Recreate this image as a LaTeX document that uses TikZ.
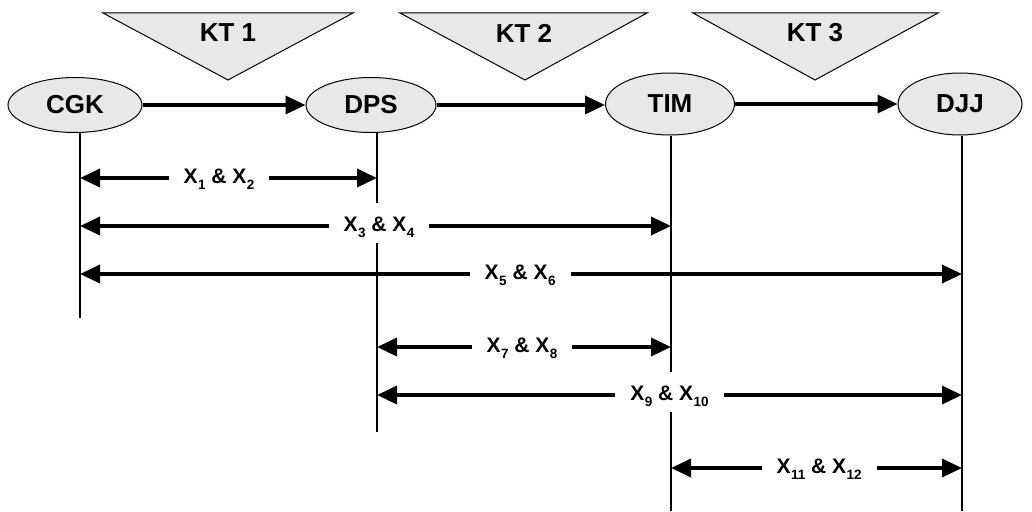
\documentclass[tikz,border=0pt]{standalone}
\usepackage{fontspec}
\setmainfont{Liberation Sans}
\usetikzlibrary{arrows.meta,shapes.geometric}
\definecolor{lgray}{RGB}{232,232,232}
\newcommand{\subx}[1]{\kern0.5pt\raisebox{-5.5pt}{\fontsize{13.5}{14}\selectfont #1}}
\begin{document}
\begin{tikzpicture}[x=1pt,y=-1pt,
  site/.style={ellipse, draw=black, line width=1pt, fill=lgray, inner sep=0pt,
    font=\fontsize{26}{30}\selectfont\bfseries},
  kt/.style={draw=black, line width=1pt, fill=lgray, line join=miter},
  ktlabel/.style={font=\fontsize{26}{30}\selectfont\bfseries, inner sep=0pt},
  flow/.style={line width=3.5pt, -{Triangle[length=20pt,width=18pt]}},
  span/.style={line width=3.5pt, {Triangle[length=20pt,width=18pt]}-{Triangle[length=20pt,width=18pt]}},
  life/.style={line width=1.4pt},
  lbl/.style={fill=white, inner xsep=15pt, inner ysep=2pt, text height=26.5pt, text depth=9.5pt,
    anchor=base, yshift=-5.5pt, font=\fontsize{21}{24}\selectfont\bfseries}]
\fill[white] (0,0) rectangle (1032,511);
\useasboundingbox (0,0) rectangle (1032,511);

% triangles
\draw[kt] (103,13) -- (353,13) -- (228,80) -- cycle;
\draw[kt] (400,13) -- (647,13) -- (525,80) -- cycle;
\draw[kt] (693,13) -- (938,13) -- (815,80) -- cycle;
\node[ktlabel] (kt1) at (228,33) {KT 1};
\node[ktlabel] (kt2) at (524,33) {KT 2};
\node[ktlabel] (kt3) at (815,33) {KT 3};

% sites
\node[site, minimum width=134pt, minimum height=55pt] (cgk) at (75,105) {CGK};
\node[site, minimum width=130pt, minimum height=55pt] (dps) at (371,105) {DPS};
\node[site, minimum width=129pt, minimum height=62pt] (tim) at (670,104) {TIM};
\node[site, minimum width=124pt, minimum height=62pt] (djj) at (960,104) {DJJ};

\draw[flow] (cgk.east) -- (dps.west);
\draw[flow] (dps.east) -- (dps.east -| tim.west);
\draw[flow] (tim.east) -- (tim.east -| djj.west);

% life lines
\coordinate (cgkb) at (80,318);
\coordinate (dpsb) at (377,432);
\coordinate (timb) at (671,511);
\coordinate (djjb) at (962,511);
\draw[life] (cgk.south -| cgkb) -- (cgkb);
\draw[life] (dps.south -| dpsb) -- (dpsb);
\draw[life] (tim.south -| timb) -- (timb);
\draw[life] (djj.south -| djjb) -- (djjb);

% rows
\coordinate (r1) at (0,178);
\coordinate (r2) at (0,226);
\coordinate (r3) at (0,274);
\coordinate (r4) at (0,347);
\coordinate (r5) at (0,395);
\coordinate (r6) at (0,468);

\draw[span] (cgkb |- r1) -- (dpsb |- r1) node[lbl, pos=0.468] (l1) {X\subx{1} \& X\subx{2}};
\draw[span] (cgkb |- r2) -- (timb |- r2) node[lbl, pos=0.506] (l2) {X\subx{3} \& X\subx{4}};
\draw[span] (cgkb |- r3) -- (djjb |- r3) node[lbl, pos=0.499] (l3) {X\subx{5} \& X\subx{6}};
\draw[span] (dpsb |- r4) -- (timb |- r4) node[lbl, pos=0.493] (l4) {X\subx{7} \& X\subx{8}};
\draw[span] (dpsb |- r5) -- (djjb |- r5) node[lbl, pos=0.50] (l5) {X\subx{9} \& X\subx{10}};
\draw[span] (timb |- r6) -- (djjb |- r6) node[lbl, pos=0.509] (l6) {X\subx{11} \& X\subx{12}};
\end{tikzpicture}
\end{document}
